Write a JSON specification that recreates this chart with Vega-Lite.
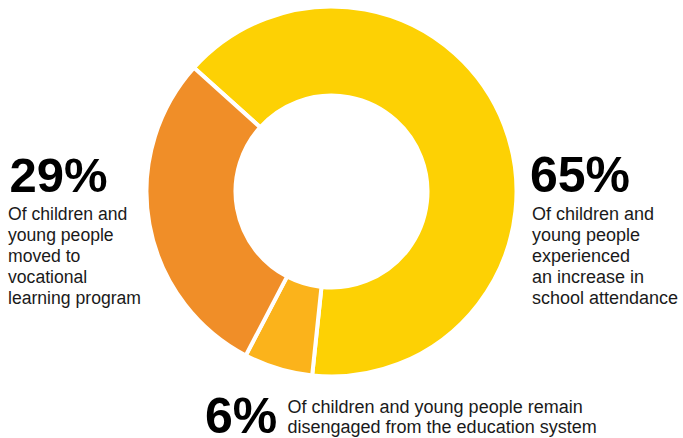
{
  "$schema": "https://vega.github.io/schema/vega-lite/v6.json",
  "width": 663,
  "height": 383,
  "autosize": "none",
  "padding": {"left": 0, "top": 0, "right": 20, "bottom": 55},
  "background": "white",
  "config": {"view": {"stroke": null}, "font": "Liberation Sans"},
  "data": {
    "values": [
      {"cat": "attendance", "value": 65, "order": 1, "pct": "65%", "desc": ["Of children and", "young people", "experienced", "an increase in", "school attendance"]},
      {"cat": "disengaged", "value": 6, "order": 2, "pct": "6%", "desc": ["Of children and young people remain", "disengaged from the education system"]},
      {"cat": "vocational", "value": 29, "order": 3, "pct": "29%", "desc": ["Of children and", "young people", "moved to", "vocational", "learning program"]}
    ]
  },
  "layer": [
    {
      "mark": {"type": "arc", "outerRadius": 185, "innerRadius": 96, "stroke": "white", "strokeWidth": 4},
      "encoding": {
        "theta": {"field": "value", "type": "quantitative", "stack": true, "scale": {"range": [-0.83776, 5.44543]}},
        "order": {"field": "order", "type": "quantitative"},
        "color": {"field": "cat", "type": "nominal", "legend": null,
          "scale": {"domain": ["attendance", "disengaged", "vocational"], "range": ["#FDD104", "#FBB31B", "#F08E28"]}}
      }
    },
    {
      "transform": [{"filter": "datum.cat == 'vocational'"}],
      "mark": {"type": "text", "align": "left", "baseline": "alphabetic", "fontSize": 49, "fontWeight": "bold", "color": "black", "dx": -322, "dy": 0.5},
      "encoding": {"text": {"field": "pct"}}
    },
    {
      "transform": [{"filter": "datum.cat == 'vocational'"}],
      "mark": {"type": "text", "align": "left", "baseline": "alphabetic", "fontSize": 17.6, "lineHeight": 21, "color": "#1a1a1a", "dx": -323.5, "dy": 28},
      "encoding": {"text": {"field": "desc"}}
    },
    {
      "transform": [{"filter": "datum.cat == 'attendance'"}],
      "mark": {"type": "text", "align": "left", "baseline": "alphabetic", "fontSize": 50, "fontWeight": "bold", "color": "black", "dx": 198.5, "dy": 0.5},
      "encoding": {"text": {"field": "pct"}}
    },
    {
      "transform": [{"filter": "datum.cat == 'attendance'"}],
      "mark": {"type": "text", "align": "left", "baseline": "alphabetic", "fontSize": 18, "lineHeight": 21, "color": "#1a1a1a", "dx": 200.5, "dy": 28},
      "encoding": {"text": {"field": "desc"}}
    },
    {
      "transform": [{"filter": "datum.cat == 'disengaged'"}],
      "mark": {"type": "text", "align": "left", "baseline": "alphabetic", "fontSize": 50, "fontWeight": "bold", "color": "black", "dx": -126.5, "dy": 241},
      "encoding": {"text": {"field": "pct"}}
    },
    {
      "transform": [{"filter": "datum.cat == 'disengaged'"}],
      "mark": {"type": "text", "align": "left", "baseline": "alphabetic", "fontSize": 18, "lineHeight": 20, "color": "#1a1a1a", "dx": -44, "dy": 221.5},
      "encoding": {"text": {"field": "desc"}}
    }
  ]
}
